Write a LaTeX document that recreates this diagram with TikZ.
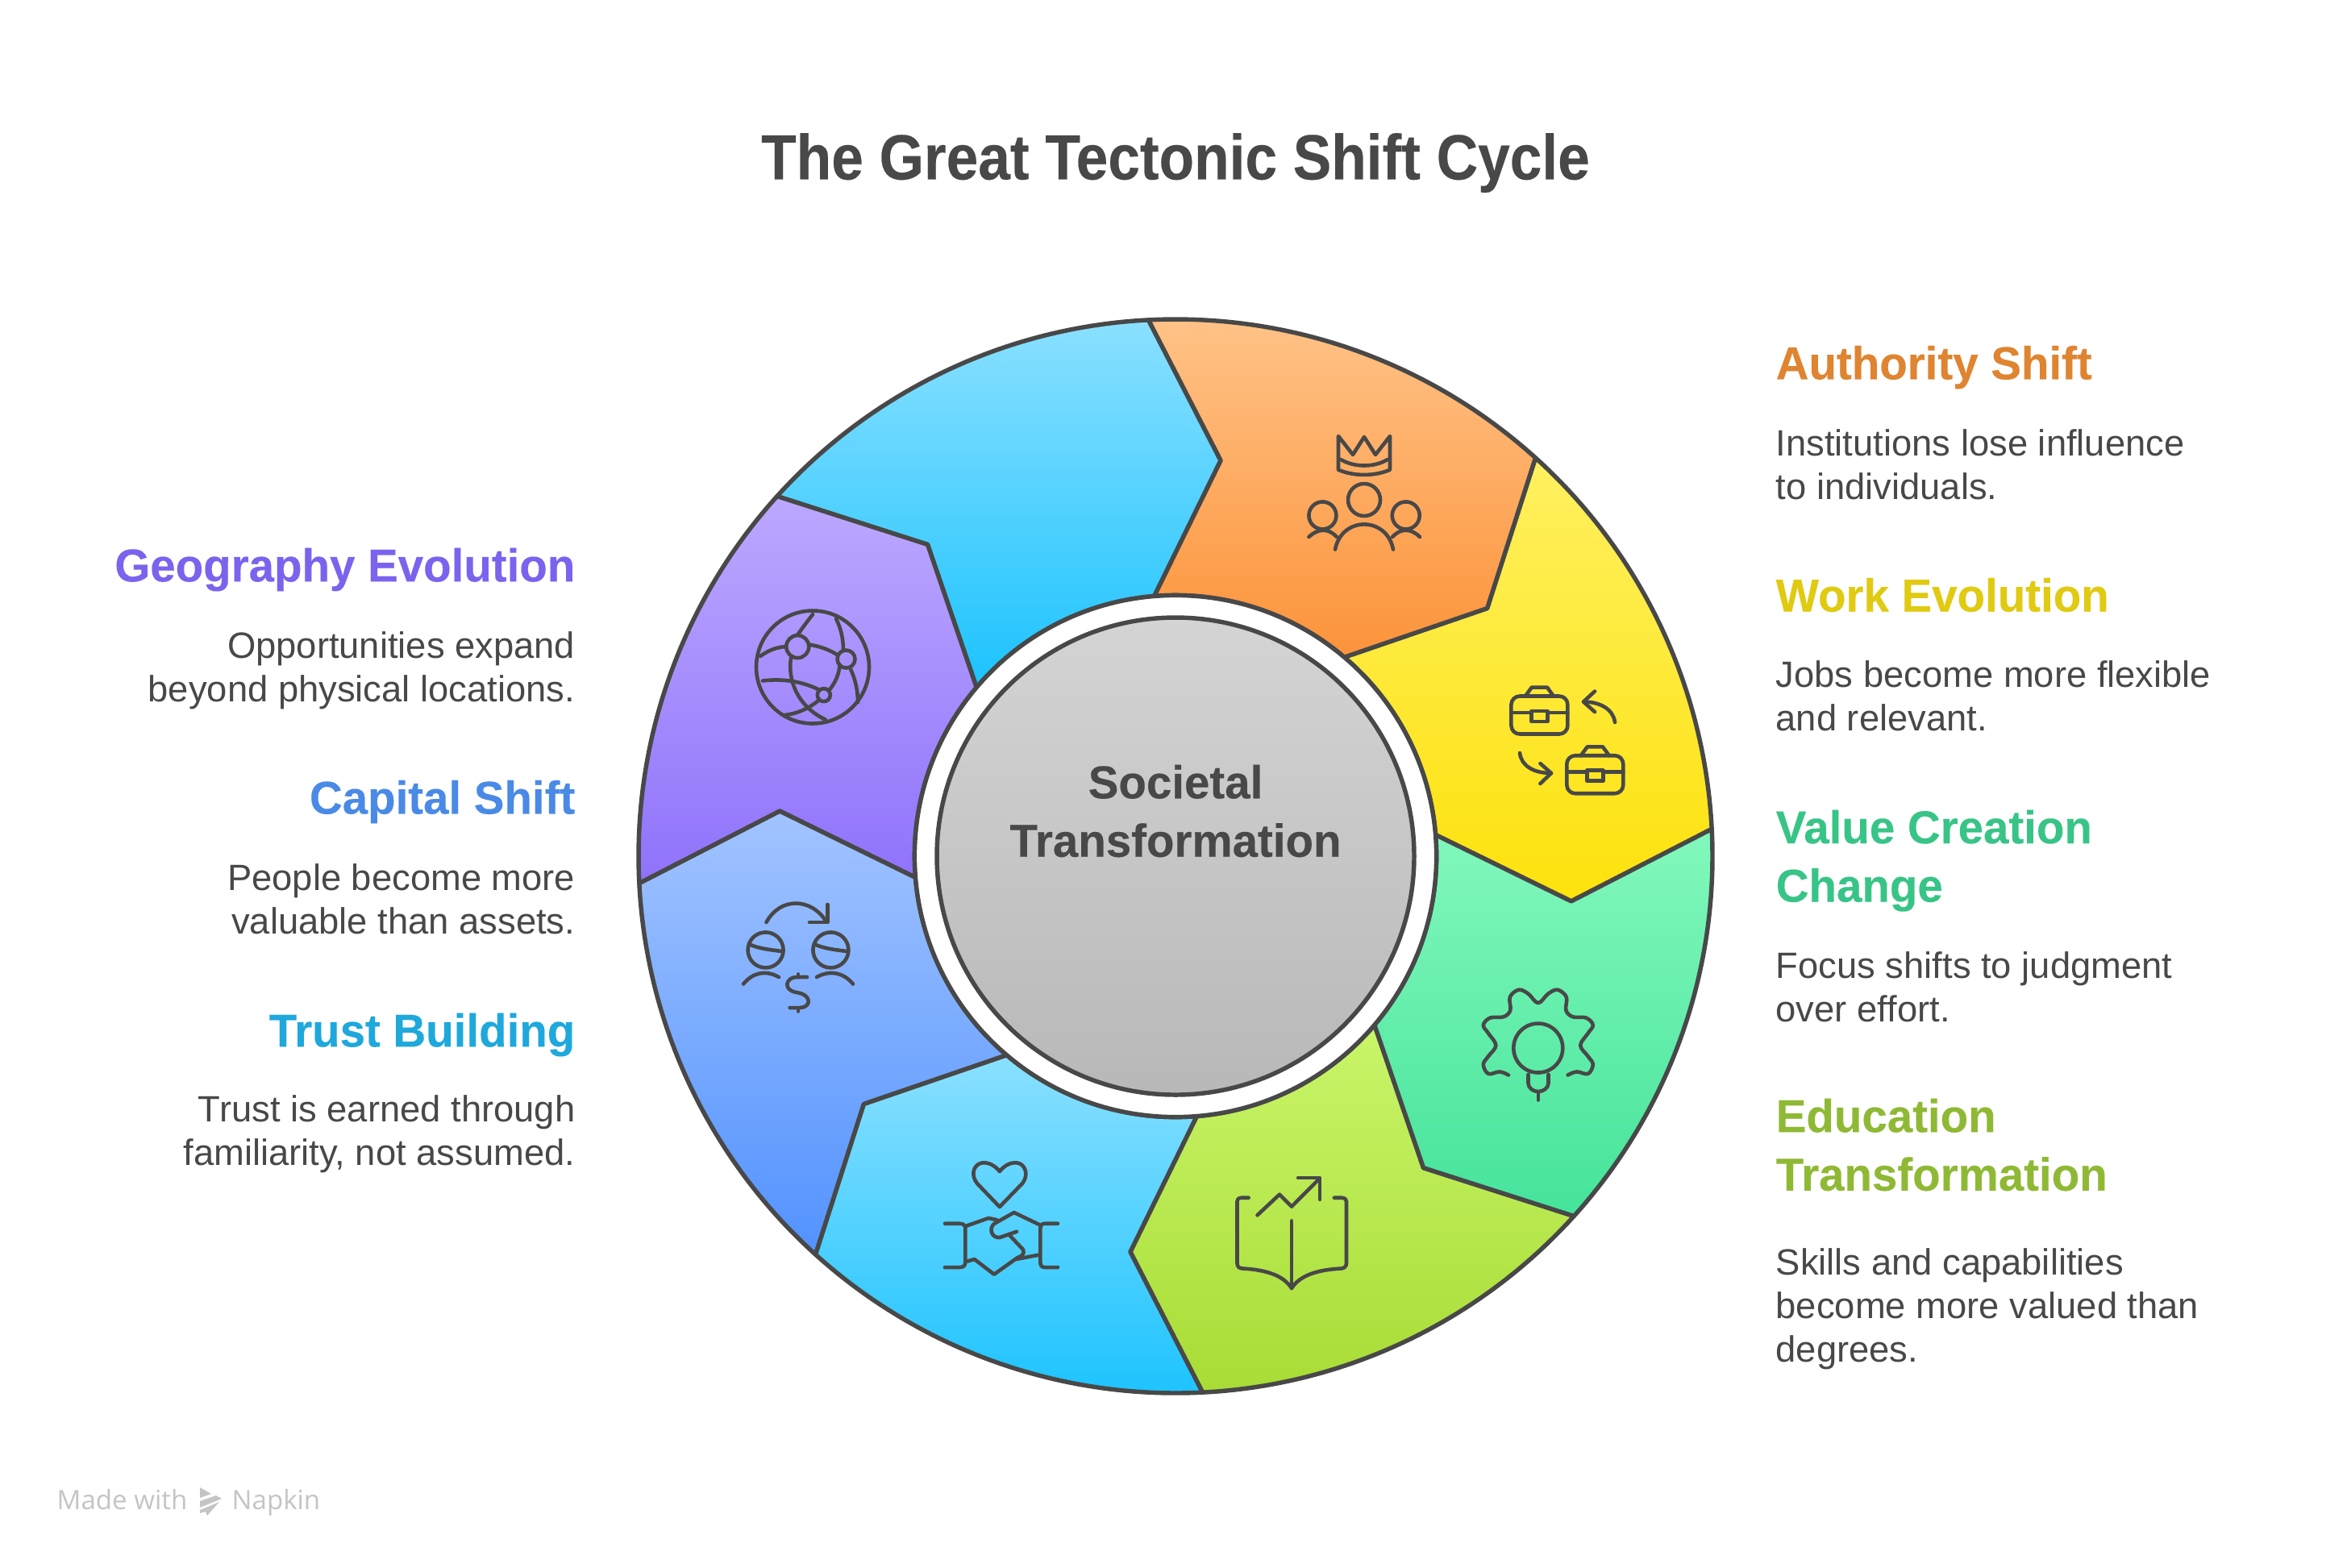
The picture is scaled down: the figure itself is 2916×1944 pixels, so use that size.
\documentclass[tikz,border=0pt]{standalone}
\usepackage{fontspec}
\setmainfont{Liberation Sans}
\newfontfamily\titlefont[FakeStretch=0.9,BoldFeatures={FakeBold=0.3}]{Liberation Sans}
\newfontfamily\headfont[FakeStretch=0.985,BoldFeatures={FakeBold=0.2}]{Liberation Sans}
\newfontfamily\markfont{Open Sans}
\definecolor{inkgrey}{HTML}{484848}
\definecolor{markgrey}{HTML}{C4C4C4}
\definecolor{yellowtop}{HTML}{FFF060}
\definecolor{yellowbot}{HTML}{FDE20C}
\definecolor{orangetop}{HTML}{FFC388}
\definecolor{orangebot}{HTML}{FC933A}
\definecolor{skytop}{HTML}{8AE0FF}
\definecolor{skybot}{HTML}{1CC3FE}
\definecolor{purpletop}{HTML}{BCA8FF}
\definecolor{purplebot}{HTML}{8F72FB}
\definecolor{bluetop}{HTML}{A2C4FF}
\definecolor{bluebot}{HTML}{5292FF}
\definecolor{limetop}{HTML}{C9F56A}
\definecolor{limebot}{HTML}{A8DC35}
\definecolor{greentop}{HTML}{82F8BC}
\definecolor{greenbot}{HTML}{45E39B}
\definecolor{greytop}{HTML}{D4D4D4}
\definecolor{greybot}{HTML}{B8B8B8}
\definecolor{headorange}{HTML}{DF8430}
\definecolor{headyellow}{HTML}{E0CA12}
\definecolor{headgreen}{HTML}{38C486}
\definecolor{headlime}{HTML}{8FB935}
\definecolor{headpurple}{HTML}{7B63EE}
\definecolor{headblue}{HTML}{4A8AE6}
\definecolor{headsky}{HTML}{1EA8DC}
\tikzset{
  ringline/.style={draw=inkgrey,line width=1.55pt,line join=round},
  iconline/.style={draw=inkgrey,line width=1.3pt,line cap=round,line join=round},
  title/.style={inner sep=0pt,text=inkgrey,font=\fontsize{22.5}{27}\selectfont\titlefont\bfseries},
  head/.style={inner sep=0pt,font=\fontsize{16.3}{20.6}\selectfont\headfont\bfseries},
  headright/.style={head,anchor=west,align=left},
  headleft/.style={head,anchor=east,align=right},
  bodyright/.style={inner sep=0pt,text=inkgrey,anchor=west,align=left,font=\fontsize{12.9}{15.36}\selectfont},
  bodyleft/.style={inner sep=0pt,text=inkgrey,anchor=east,align=right,font=\fontsize{12.9}{15.36}\selectfont},
  markword/.style={inner sep=0pt,anchor=base west,text=markgrey,font=\fontsize{9.4}{11}\selectfont\markfont},
}
\begin{document}
\begin{tikzpicture}[x=0.01cm,y=-0.01cm]
  \useasboundingbox (0,0) rectangle (2916,1944);

  \begin{scope}[shift={(1458,1062)},yscale=-1]
    \foreach \a/\ctop/\cbot in {2.9/yellowtop/yellowbot,47.9/orangetop/orangebot,92.9/skytop/skybot,137.9/purpletop/purplebot,182.9/bluetop/bluebot,227.9/skytop/skybot,272.9/limetop/limebot,317.9/greentop/greenbot}
      \draw [ringline,top color=\ctop,bottom color=\cbot] (\a:666) arc [start angle=\a,end angle=\a+45,radius=666] -- ({\a+35.6}:494) -- ({\a+46.8}:323.6) arc [start angle=\a+46.8,end angle=\a+1.8,radius=323.6] -- ({\a-9.4}:494) -- cycle;
    \draw [ringline,fill=white] (0,0) circle (323.6);
    \draw [ringline,top color=greytop,bottom color=greybot] (0,0) circle (296);
  \end{scope}

  \node [title] (maintitle) at (1458,202) {The Great Tectonic Shift Cycle};
  \node [head,text=inkgrey,align=center] (hubtext) at (1458,1006) {Societal\\Transformation};

  \node [headright,text=headorange] (authorityhead) at (2202,455.6) {Authority Shift};
  \node [bodyright] (authoritytext) at (2202,576) {Institutions lose influence\\to individuals.};
  \node [headright,text=headyellow] (workhead) at (2202,738) {Work Evolution};
  \node [bodyright] (worktext) at (2202,863) {Jobs become more flexible\\and relevant.};
  \node [headright,text=headgreen] (valuehead) at (2202,1067.6) {Value Creation\\Change};
  \node [bodyright] (valuetext) at (2202,1224) {Focus shifts to judgment\\over effort.};
  \node [headright,text=headlime] (eduhead) at (2202,1420) {Education\\Transformation};
  \node [bodyright] (edutext) at (2202,1623.7) {Skills and capabilities\\become more valued than\\degrees.};

  \node [headleft,text=headpurple] (geohead) at (714,706.6) {Geography Evolution};
  \node [bodyleft] (geotext) at (714,831.7) {Opportunities expand\\beyond physical locations.};
  \node [headleft,text=headblue] (capitalhead) at (714,994.6) {Capital Shift};
  \node [bodyleft] (capitaltext) at (714,1115) {People become more\\valuable than assets.};
  \node [headleft,text=headsky] (trusthead) at (714,1283.6) {Trust Building};
  \node [bodyleft] (trusttext) at (714,1406.7) {Trust is earned through\\familiarity, not assumed.};

  % crown and people
  \draw [iconline] (1660,582.7) -- (1660,541) -- (1678,564) -- (1692,542) -- (1706,564) -- (1724,541) -- (1724,582.7) .. controls (1705,591) and (1679,591) .. (1660,582.7);
  \draw [iconline] (1663,570) .. controls (1680,580) and (1704,580) .. (1721,570);
  \draw [iconline] (1692,620) circle (20);
  \draw [iconline] (1640.4,639.4) circle (17);
  \draw [iconline] (1743.7,639.4) circle (17);
  \draw [iconline] (1656,681.5) .. controls (1664,640) and (1720,640) .. (1728,681.5);
  \draw [iconline] (1623.4,666) .. controls (1635,655) and (1648,655) .. (1658,666);
  \draw [iconline] (1727,666) .. controls (1737,655) and (1750,655) .. (1761,666);

  % briefcases
  \foreach \cx/\cy in {1909.4/887,1978.3/960.7} {
    \draw [iconline,rounded corners=3pt] (\cx-35,\cy-23.5) rectangle (\cx+35,\cy+23.5);
    \draw [iconline] (\cx-17.5,\cy-23.5) -- (\cx-9.6,\cy-34.4) -- (\cx+9.6,\cy-34.4) -- (\cx+17.5,\cy-23.5);
    \draw [iconline] (\cx-35,\cy-3) -- (\cx-10,\cy-3);
    \draw [iconline] (\cx+10,\cy-3) -- (\cx+35,\cy-3);
    \draw [iconline] (\cx-10,\cy-5) rectangle (\cx+10,\cy+8);
  }
  \draw [iconline] (2003,896) .. controls (2001,880) and (1985,870.5) .. (1964,870.5);
  \draw [iconline] (1978,857.5) -- (1964,870.5) -- (1978,883);
  \draw [iconline] (1885,934) .. controls (1887,950) and (1902,959) .. (1924,959);
  \draw [iconline] (1910.4,947) -- (1924,959) -- (1910.4,972);

  % gear and bulb
  \begin{scope}[shift={(1907.8,1283.7)}]
    \draw [iconline] plot [smooth,tension=0.6] coordinates {(-36.8,49.8) (-47.7,45.7) (-61.8,48.2) (-68,36.7) (-61.8,26.5) (-52.4,13) (-61.8,-2) (-68,-12.2) (-59.5,-21.2) (-43,-22.4) (-34.5,-30.6) (-35,-47) (-24,-56) (-12.3,-51) (0,-39.6) (12.3,-51) (24,-56) (35,-47) (34.5,-30.6) (43,-22.4) (59.5,-21.2) (68,-12.2) (61.8,-2) (52.4,13) (61.8,26.5) (68,36.7) (61.8,48.2) (47.7,45.7) (36.8,49.8)};
    \draw [iconline] (0,16.3) circle (30.5);
    \draw [iconline] (-12.3,49) -- (-12.3,60) .. controls (-12.3,66) and (-6,70.3) .. (0,70.3) .. controls (6,70.3) and (12.7,66) .. (12.7,60) -- (12.7,49);
    \draw [iconline] (0,70.3) -- (0,80.8);
  \end{scope}

  % book and chart
  \draw [iconline] (1602,1514.3) -- (1602,1598);
  \draw [iconline] (1548.7,1485.7) -- (1540,1485.7) .. controls (1536,1485.7) and (1534.5,1488) .. (1534.5,1490) -- (1534.5,1567) .. controls (1534.5,1571) and (1537,1573.5) .. (1541.6,1573.5) .. controls (1570,1575) and (1592,1582) .. (1602,1598) .. controls (1612,1582) and (1634,1575) .. (1663,1573.5) .. controls (1667,1573.5) and (1670,1571) .. (1670,1567) -- (1670,1490) .. controls (1670,1488) and (1668,1485.7) .. (1664,1485.7) -- (1654.8,1485.7);
  \draw [iconline] (1559.5,1507.3) -- (1587,1481.6) -- (1602,1496.7) -- (1636,1462.4);
  \draw [iconline] (1610,1461) -- (1637,1461) -- (1637,1487.8);

  % handshake and heart
  \draw [iconline] (1239.8,1453) .. controls (1232,1443) and (1222,1441) .. (1216,1443) .. controls (1207,1446) and (1204,1458) .. (1212,1468) -- (1239.8,1497) -- (1268,1468) .. controls (1276,1458) and (1272,1446) .. (1264,1443) .. controls (1257,1441) and (1248,1443) .. (1239.8,1453);
  \draw [iconline] (1172,1517.7) -- (1190,1517.7) .. controls (1195,1517.7) and (1197.4,1520) .. (1197.4,1524) -- (1197.4,1565) .. controls (1197.4,1570) and (1195,1572) .. (1190,1572) -- (1172,1572);
  \draw [iconline] (1312,1517.7) -- (1296,1517.7) .. controls (1292,1517.7) and (1290.3,1520) .. (1290.3,1524) -- (1290.3,1565) .. controls (1290.3,1570) and (1292,1572) .. (1296,1572) -- (1312,1572);
  \draw [iconline] (1197.5,1521) -- (1226,1511) -- (1236,1513);
  \draw [iconline] (1289,1519) -- (1257.7,1504) -- (1233,1518) .. controls (1226,1524) and (1230,1536) .. (1240,1535) -- (1261,1527.7);
  \draw [iconline] (1251,1531) -- (1269,1550) .. controls (1271,1555) and (1268,1558) .. (1262,1560) -- (1233,1580.7) -- (1208.6,1562) -- (1198,1565);
  \draw [iconline] (1260,1562) -- (1289,1556.5);

  % heads and dollar
  \draw [iconline] (949.6,1178.4) circle (22);
  \draw [iconline] (1030.4,1178.4) circle (22);
  \draw [iconline] (931,1172) .. controls (943,1177) and (955,1178) .. (969.5,1180);
  \draw [iconline] (1012,1172) .. controls (1024,1177) and (1036,1178) .. (1050,1180);
  \draw [iconline] (950.5,1144) .. controls (968,1112) and (1006,1114) .. (1024,1142);
  \draw [iconline] (1026.4,1122) -- (1026.4,1144) -- (1004,1144);
  \draw [iconline] (922,1220.5) .. controls (934,1206) and (950,1203) .. (966,1212);
  \draw [iconline] (1013,1212) .. controls (1029,1203) and (1046,1206) .. (1058,1220.5);
  \draw [iconline] (1001,1212) -- (988,1212) .. controls (975,1212) and (970,1228) .. (988,1231) .. controls (1008,1234) and (1006,1250) .. (992,1250) -- (979.6,1250);
  \draw [iconline] (990,1208.4) -- (990,1212);
  \draw [iconline] (990,1250) -- (990,1254.5);

  % globe
  \begin{scope}[shift={(1008,827.5)}]
    \draw [iconline] (0,0) circle (70);
    \draw [iconline] (-18.75,-25.4) circle (14);
    \draw [iconline] (41.5,-10) circle (11);
    \draw [iconline] (13.8,34.6) circle (8);
    \draw [iconline] (0,-65.4) .. controls (-8,-55) and (-14,-47) .. (-18.75,-40);
    \draw [iconline] (29,-60) .. controls (35,-48) and (38,-35) .. (38,-20.7);
    \draw [iconline] (-65,-13.5) .. controls (-55,-21) and (-44,-25) .. (-33,-25.4);
    \draw [iconline] (-4.5,-28) .. controls (8,-26) and (20,-22) .. (31,-15);
    \draw [iconline] (-27,-11) .. controls (-31,15) and (-20,48) .. (15.6,65);
    \draw [iconline] (-62,17) .. controls (-40,14) and (-15,17) .. (6.7,27.5);
    \draw [iconline] (6.7,41.8) .. controls (-6,52) and (-20,58) .. (-35.7,59.6);
    \draw [iconline] (33.5,-3) .. controls (33,8) and (28,20) .. (20,29);
    \draw [iconline] (47,2.5) .. controls (53,15) and (56,30) .. (56,43.5);
  \end{scope}

  \node [markword] (madewith) at (70,1872) {Made with};
  \node [markword] (napkinword) at (287,1872) {Napkin};
  \fill [markgrey] (248,1845) -- (262,1853) -- (248,1858) -- cycle;
  \fill [markgrey] (248,1862) -- (268,1855) -- (275,1859) -- (248,1870) -- cycle;
  \fill [markgrey] (248,1873) -- (272,1863) -- (257,1880) -- (255,1875) -- (248,1877) -- cycle;
\end{tikzpicture}
\end{document}
